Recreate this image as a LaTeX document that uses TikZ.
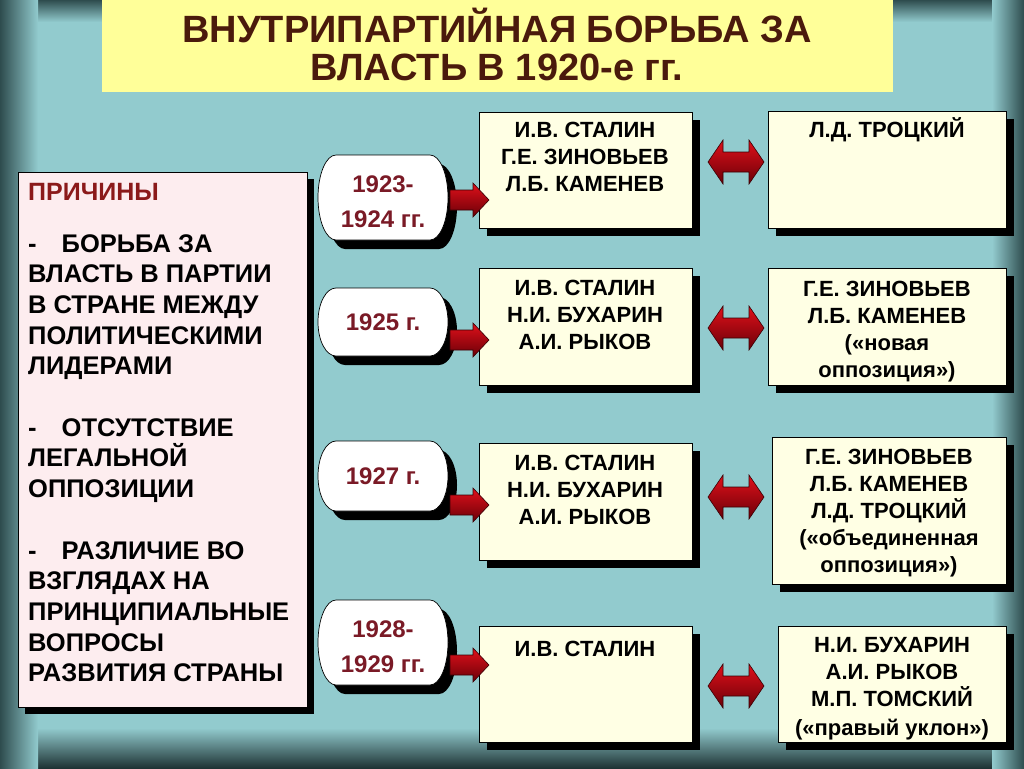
\documentclass[tikz,border=0pt]{standalone}
\usepackage{fontspec}
\setmainfont{Liberation Sans}
\definecolor{bg}{HTML}{92CBCE}
\definecolor{bgdark}{HTML}{2E4C4E}
\definecolor{bgdeep}{HTML}{1E3334}
\definecolor{titlebg}{HTML}{FFFF99}
\definecolor{titletext}{HTML}{4A1A0C}
\definecolor{pinkbg}{HTML}{FDEDEF}
\definecolor{boxbg}{HTML}{FFFFE4}
\definecolor{yeartext}{HTML}{7A1A26}
\definecolor{reasonred}{HTML}{8B1A1A}
\definecolor{arrtop}{HTML}{E0101A}
\definecolor{arrbot}{HTML}{6A0008}
\definecolor{arrline}{HTML}{3A0004}
\newcommand\yearoval[6]{% name, cx, cy, height, text, text offset
  \pgfmathsetmacro\yoh{#4/2}
  \begin{scope}[shift={(#2+9,#3+9)}]
    \fill[black] (-47,-\yoh) -- (47,-\yoh) arc[start angle=-90, end angle=90, x radius=18, y radius=\yoh]
      -- (-47,\yoh) arc[start angle=90, end angle=270, x radius=18, y radius=\yoh] -- cycle;
  \end{scope}
  \begin{scope}[shift={(#2,#3)}]
    \draw[fill=white, line width=0.7pt] (-47,-\yoh) -- (47,-\yoh) arc[start angle=-90, end angle=90, x radius=18, y radius=\yoh]
      -- (-47,\yoh) arc[start angle=90, end angle=270, x radius=18, y radius=\yoh] -- cycle;
  \end{scope}
  \node[yeartextstyle] (#1) at (#2,#3+#6) {#5};
}
\begin{document}
\begin{tikzpicture}[x=1pt,y=-1pt,
  sh/.style={preaction={fill=black, transform canvas={xshift=8pt, yshift=-8pt}}},
  infobox/.style={draw=black, line width=0.7pt, fill=boxbg, inner sep=0, anchor=north west, sh},
  boxtext/.style={inner sep=0, align=center, font=\fontsize{22}{27}\selectfont\bfseries},
  yeartextstyle/.style={inner sep=0, align=center, text=yeartext, font=\fontsize{24}{30}\selectfont\bfseries},
  arrowstyle/.style={top color=arrtop, bottom color=arrbot, draw=arrline, line width=0.6pt},
  rarr/.pic={\path[arrowstyle] (0,-10) -- (23,-10) -- (23,-17) -- (39,0) -- (23,17) -- (23,10) -- (0,10) -- cycle;},
  darr/.pic={\path[arrowstyle] (-28,0) -- (-13,-22) -- (-13,-10) -- (13,-10) -- (13,-22) -- (28,0) -- (13,22) -- (13,10) -- (-13,10) -- (-13,22) -- cycle;}
]
\useasboundingbox (0,0) rectangle (1024,768);
% background with darkened edges
\fill[bg] (0,0) rectangle (1024,768);
\shade[top color=bgdark, bottom color=bg] (0,0) rectangle (1024,22);
\shade[top color=bg, bottom color=bgdeep] (0,728) rectangle (1024,768);
\shade[left color=bgdark, right color=bg] (0,0) rectangle (38,768);
\shade[left color=bg, right color=bgdark] (992,0) rectangle (1024,768);

% title
\fill[titlebg] (102,0) rectangle (893,92);
\node[inner sep=0, align=center, text=titletext, font=\fontsize{38}{38}\selectfont\bfseries] (title) at (497,44)
  {ВНУТРИПАРТИЙНАЯ БОРЬБА ЗА\\ВЛАСТЬ В 1920-е гг.};

% reasons box
\node[draw=black, line width=0.7pt, fill=pinkbg, inner sep=0, anchor=north west, minimum width=289, minimum height=535,
  preaction={fill=black, transform canvas={xshift=7pt, yshift=-7pt}}] (reasons) at (18,172) {};
\node[inner sep=0, anchor=west, text=reasonred, font=\fontsize{25}{30}\selectfont\bfseries] (rtitle) at (28,192) {ПРИЧИНЫ};
\node[inner sep=0, anchor=north west, align=left, font=\fontsize{25.5}{30.7}\selectfont\bfseries] (rtext) at (28,234)
  {-\hspace{25pt}БОРЬБА ЗА\\ВЛАСТЬ В ПАРТИИ\\В СТРАНЕ МЕЖДУ\\ПОЛИТИЧЕСКИМИ\\ЛИДЕРАМИ\\[30.7pt]
   -\hspace{25pt}ОТСУТСТВИЕ\\ЛЕГАЛЬНОЙ\\ОППОЗИЦИИ\\[30.7pt]
   -\hspace{25pt}РАЗЛИЧИЕ ВО\\ВЗГЛЯДАХ НА\\ПРИНЦИПИАЛЬНЫЕ\\ВОПРОСЫ\\РАЗВИТИЯ СТРАНЫ};

% year ovals
\yearoval{y1}{383}{197.5}{85}{1923-\\[5pt]1924 гг.}{4.5}
\yearoval{y2}{383}{322}{68}{1925 г.}{0}
\yearoval{y3}{383}{476}{70}{1927 г.}{0}
\yearoval{y4}{383}{642.5}{85}{1928-\\[5pt]1929 гг.}{4.5}

% middle boxes
\node[infobox, minimum width=213, minimum height=116] (m1) at (479,112) {};
\node[infobox, minimum width=213, minimum height=117] (m2) at (479,268) {};
\node[infobox, minimum width=213, minimum height=117] (m3) at (479,443) {};
\node[infobox, minimum width=213, minimum height=116] (m4) at (479,626) {};
\node[boxtext] (m1t) at (585,157) {И.В. СТАЛИН\\Г.Е. ЗИНОВЬЕВ\\Л.Б. КАМЕНЕВ};
\node[boxtext] (m2t) at (585,314.5) {И.В. СТАЛИН\\Н.И. БУХАРИН\\А.И. РЫКОВ};
\node[boxtext] (m3t) at (585,490) {И.В. СТАЛИН\\Н.И. БУХАРИН\\А.И. РЫКОВ};
\node[boxtext] (m4t) at (585,649) {И.В. СТАЛИН};

% right boxes
\node[infobox, minimum width=238, minimum height=117] (r1) at (768,111) {};
\node[infobox, minimum width=238, minimum height=117] (r2) at (768,268) {};
\node[infobox, minimum width=234, minimum height=147] (r3) at (772,437) {};
\node[infobox, minimum width=228, minimum height=116] (r4) at (778,626) {};
\node[boxtext] (r1t) at (887,130) {Л.Д. ТРОЦКИЙ};
\node[boxtext] (r2t) at (887,332) {Г.Е. ЗИНОВЬЕВ\\Л.Б. КАМЕНЕВ\\(«новая\\оппозиция»)};
\node[boxtext] (r3t) at (889,513) {Г.Е. ЗИНОВЬЕВ\\Л.Б. КАМЕНЕВ\\Л.Д. ТРОЦКИЙ\\(«объединенная\\оппозиция»)};
\node[boxtext] (r4t) at (892,689) {Н.И. БУХАРИН\\А.И. РЫКОВ\\М.П. ТОМСКИЙ\\[2pt](«правый уклон»)};

% arrows from years to middle boxes
\pic at (450,200) {rarr};
\pic at (450,340) {rarr};
\pic at (450,505) {rarr};
\pic at (450,665) {rarr};

% double arrows between middle and right boxes
\pic at (736,162) {darr};
\pic at (736,328) {darr};
\pic at (736,497) {darr};
\pic at (736,686) {darr};
\end{tikzpicture}
\end{document}
